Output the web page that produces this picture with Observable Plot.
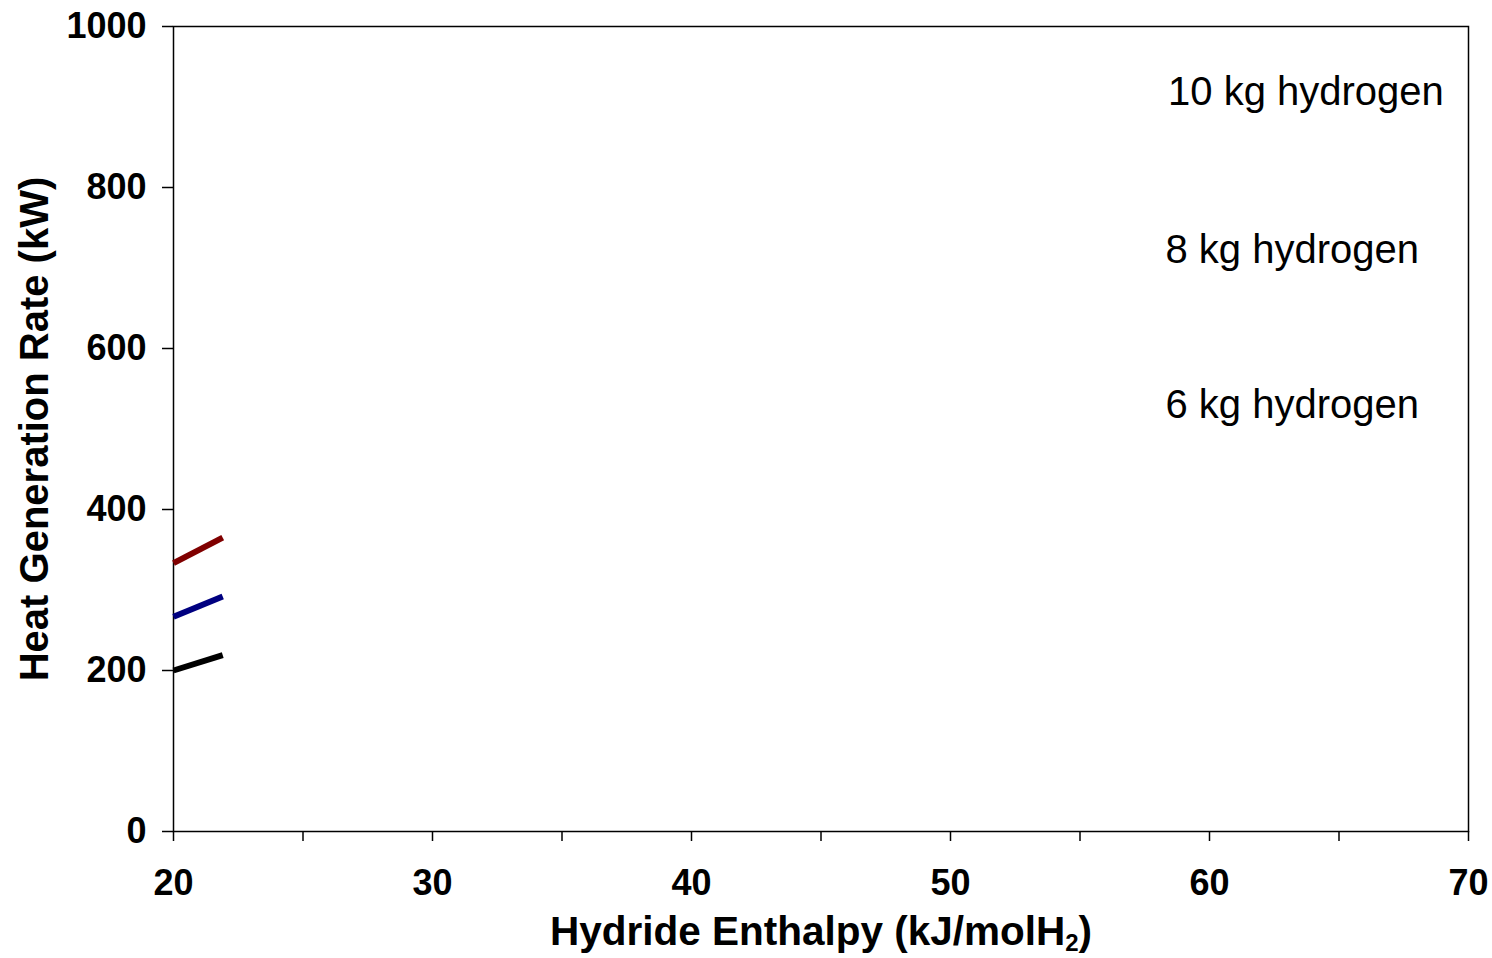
<!DOCTYPE html>
<html>
<head>
<meta charset="utf-8">
<script src="https://cdn.jsdelivr.net/npm/d3@7"></script>
<script src="https://cdn.jsdelivr.net/npm/@observablehq/plot@0.6"></script>
<style>
  html, body { margin: 0; padding: 0; background: #fff; }
  svg { font-family: "Liberation Sans", Arial, sans-serif; }
</style>
</head>
<body>
<div id="chart"></div>
<script>
// Data
const enthalpy = [20, 21.9];
const rate6kg = [200, 219];
const rate8kg = [266.7, 292];
const rate10kg = [333.3, 365];
const seriesNames = ["6 kg hydrogen", "8 kg hydrogen", "10 kg hydrogen"];
const seriesColors = ["#000000", "#000080", "#800000"];
const xTicks = [20, 30, 40, 50, 60, 70];
const xMinorTicks = [25, 35, 45, 55, 65];
const yTicks = [0, 200, 400, 600, 800, 1000];
const labelX = [58.3, 58.3, 58.4];
const labelY = [530, 722, 918];

const rows = [];
[rate6kg, rate8kg, rate10kg].forEach((arr, i) => {
  arr.forEach((v, j) => rows.push({series: seriesNames[i], x: enthalpy[j], y: v}));
});
const labels = seriesNames.map((s, i) => ({text: s, x: labelX[i], y: labelY[i]}));

const chart = Plot.plot({
  width: 1492,
  height: 958,
  marginLeft: 173,
  marginRight: 24,
  marginTop: 26,
  marginBottom: 127,
  x: {domain: [20, 70]},
  y: {domain: [0, 1000]},
  color: {domain: seriesNames, range: seriesColors},
  marks: [
    Plot.frame({stroke: "#000", strokeWidth: 1.5}),
    Plot.axisX({ticks: xMinorTicks, tickSize: 10, tickFormat: () => "", stroke: "#000", strokeWidth: 1.5, label: null}),
    Plot.axisX({ticks: xTicks, tickSize: 10, tickPadding: 28, fontSize: 36, fontWeight: "bold", fill: "#000", stroke: "#000", strokeWidth: 1.5, label: null, tickFormat: d => String(d)}),
    Plot.axisY({ticks: yTicks, tickSize: 11, tickPadding: 16, fontSize: 36, fontWeight: "bold", fill: "#000", stroke: "#000", strokeWidth: 1.5, label: null, tickFormat: d => String(d)}),
    Plot.line(rows, {x: "x", y: "y", stroke: "series", strokeWidth: 6, strokeLinecap: "butt", z: "series"}),
    Plot.text(labels, {x: "x", y: "y", text: "text", textAnchor: "start", fontSize: 40, fill: "#000"}),
    Plot.text(["Heat Generation Rate (kW)"], {frameAnchor: "left", textAnchor: "middle", rotate: -90, dx: -138, fontSize: 40, fontWeight: "bold", fill: "#000"}),
    Plot.text(["Hydride Enthalpy (kJ/molH_2)"], {frameAnchor: "bottom", dy: 113, fontSize: 40.5, fontWeight: "bold", fill: "#000"})
  ]
});

// Render subscript for the x-axis title
d3.select(chart).selectAll("text").each(function() {
  const t = d3.select(this);
  if (t.text() === "Hydride Enthalpy (kJ/molH_2)") {
    t.text(null);
    t.append("tspan").text("Hydride Enthalpy (kJ/molH");
    t.append("tspan").attr("font-size", 24).attr("dy", 6).text("2");
    t.append("tspan").attr("dy", -6).text(")");
  }
});

document.getElementById("chart").appendChild(chart);
</script>
</body>
</html>
